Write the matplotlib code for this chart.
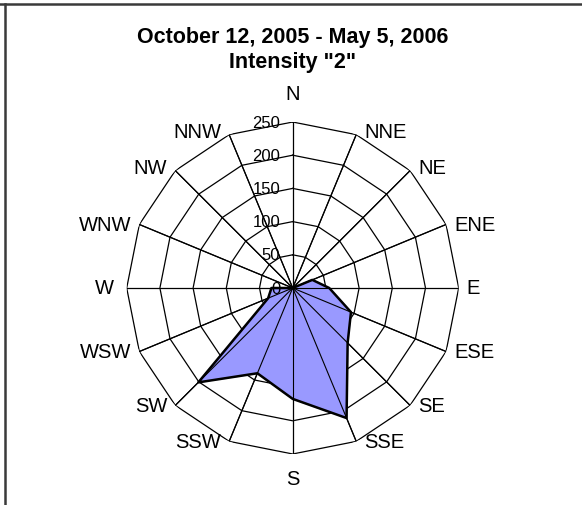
import numpy as np
import matplotlib
matplotlib.use("Agg")
import matplotlib.pyplot as plt
from matplotlib.lines import Line2D

plt.rcParams['font.family'] = ['Liberation Sans', 'DejaVu Sans']

# wind directions, clockwise from north
directions = ['N', 'NNE', 'NE', 'ENE', 'E', 'ESE', 'SE', 'SSE',
              'S', 'SSW', 'SW', 'WSW', 'W', 'WNW', 'NW', 'NNW']
counts = [0, 0, 0, 32, 55, 95, 117, 212, 167, 139, 201, 40, 32, 0, 0, 0]
rings = [50, 100, 150, 200, 250]
ring_labels = ['0', '50', '100', '150', '200', '250']
title = 'October 12, 2005 - May 5, 2006\nIntensity "2"'

W, H = 582, 506
fig = plt.figure(figsize=(W / 100, H / 100), dpi=100)

cx, cy, R = 292.7, 289.0, 166.0
ax = fig.add_axes([(cx - R) / W, (H - cy - R) / H, 2 * R / W, 2 * R / H],
                  projection='polar')
ax.set_theta_zero_location('N')
ax.set_theta_direction(-1)
ax.set_ylim(0, 250)
ax.grid(False)
ax.set_xticks([])
ax.set_yticks([])
ax.spines['polar'].set_visible(False)
ax.patch.set_alpha(0)

n = len(directions)
theta = np.arange(n) * 2 * np.pi / n
theta_c = np.append(theta, theta[0])

# polygon rings
for r in rings:
    ax.plot(theta_c, [r] * (n + 1), color='black', lw=0.9, zorder=1)
# spokes
for i, t in enumerate(theta):
    col = '#707070' if i % 4 == 0 else 'black'
    ax.plot([t, t], [0, 250], color=col, lw=0.9, zorder=1)

# data polygon
vals = np.append(counts, counts[0])
ax.fill(theta_c, vals, color='#9999FF', zorder=2)
ax.plot(theta_c, vals, color='black', lw=1.8, zorder=3)
# spokes drawn over fill
for t in theta:
    ax.plot([t, t], [0, 250], color='black', lw=0.8, zorder=2.5)

# category labels (offsets in pixels -> points at 100 dpi)
px = 0.72
for t, lab in zip(theta, directions):
    s, c = np.sin(t), np.cos(t)
    if abs(s) < 0.1:
        ha = 'center'
        dx = 0
        dy = 19 if c > 0 else -15
        va = 'bottom' if c > 0 else 'top'
    else:
        ha = 'left' if s > 0 else 'right'
        dx = 8 if s > 0 else -8
        if lab == 'W':
            dx = -13
        dy = 3 if c > 0.5 else 0
        va = 'center'
    ax.annotate(lab, xy=(t, 250), xytext=(dx * px, dy * px),
                textcoords='offset points', ha=ha, va=va, fontsize=14.5,
                annotation_clip=False)

# radial tick labels
for v, lab in zip([0] + rings, ring_labels):
    ax.annotate(lab, xy=(0, v), xytext=(-9, 0), textcoords='offset points',
                ha='right', va='center', fontsize=12, annotation_clip=False,
                zorder=4)

fig.text(cx / W, 1 - 38 / H, 'October 12, 2005 - May 5, 2006', ha='center',
         va='center', fontsize=15.5, fontweight='bold')
fig.text(cx / W, 1 - 63 / H, 'Intensity "2"', ha='center',
         va='center', fontsize=15.5, fontweight='bold')

# chart area border (top and left edges visible)
fig.add_artist(Line2D([0, 1], [1 - 4.5 / H] * 2, transform=fig.transFigure,
                      color='#3a3a3a', lw=1.8))
fig.add_artist(Line2D([4.5 / W] * 2, [0, 1 - 4.5 / H], transform=fig.transFigure,
                      color='#3a3a3a', lw=1.8))

fig.savefig('out.png', dpi=100)
